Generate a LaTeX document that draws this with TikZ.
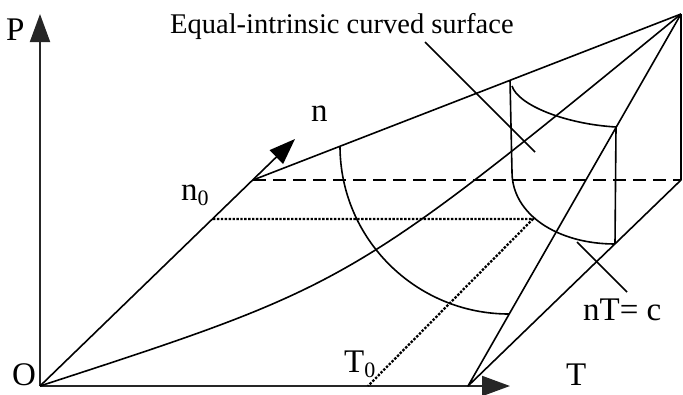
\documentclass[tikz,border=0pt]{standalone}
\usepackage{fontspec}
\setmainfont{Liberation Serif}
\usetikzlibrary{arrows.meta}
\tikzset{
  edge/.style={line width=1.6pt, line join=round},
  axis/.style={line width=2pt, black!85, -{Triangle[length=28pt,width=20pt]}},
  dashline/.style={line width=2.2pt, dash pattern=on 13pt off 7pt},
  dotline/.style={line width=2.3pt, dash pattern=on 2.4pt off 1.5pt},
  lbl/.style={font=\fontsize{33}{33}\selectfont, inner sep=0pt, anchor=base west},
  ttl/.style={font=\fontsize{28.5}{28.5}\selectfont, inner sep=0pt, anchor=base west},
}
\newcommand{\subz}{{\fontsize{22}{22}\selectfont\raisebox{-5pt}{0}}}
\begin{document}
\begin{tikzpicture}[x=1pt,y=-1pt]
\useasboundingbox (0,0) rectangle (683,394);
% points
\coordinate (O) at (40,386);
\coordinate (Ptip) at (40,14);
\coordinate (Ttip) at (510,386);
\coordinate (N0) at (253,180);
\coordinate (Ntip) at (295,139);
\coordinate (A) at (681,14);
\coordinate (R) at (681,180);
\coordinate (B) at (468,386);
\coordinate (D1) at (213,219);
\coordinate (D2) at (533,219);
\coordinate (D3) at (368,386);
\coordinate (BA1) at (340,146);
\coordinate (BA2) at (509,314);
\coordinate (S1) at (510,80);
\coordinate (S2) at (512,172);
\coordinate (S3) at (616,127);
\coordinate (S4) at (615,244);
\coordinate (L1a) at (425,42);
\coordinate (L1b) at (535,152);
\coordinate (L2a) at (577,242);
\coordinate (L2b) at (627,292);
% axes
\draw[axis] (O) -- (Ptip);
\draw[axis] (O) -- (Ttip);
% edges
\draw[edge, -{Triangle[length=26pt,width=19pt]}] (O) -- (Ntip);
\draw[edge] (N0) -- (A);
\draw[edge] (A) -- (R) -- (B) -- (A);
\draw[edge] (O) .. controls (350,285) .. (A);
\draw[dashline] (N0) -- (R);
\draw[dotline] (D1) -- (D2) -- (D3);
% big arc
\draw[edge] (BA1) .. controls (340,239) and (416,314) .. (BA2);
% small surface
\draw[edge] (S1) -- (S2);
\draw[edge] (512,86) .. controls (518,105) and (565,124) .. (S3);
\draw[edge] (S3) -- (S4);
\draw[edge] (S2) .. controls (512,214) and (557,244) .. (S4);
% leaders
\draw[edge] (L1a) -- (L1b);
\draw[edge] (L2a) -- (L2b);
% labels
\node[ttl] (title) at (170,33) {Equal-intrinsic curved surface};
\node[lbl] (lP) at (6,40) {P};
\node[lbl] (lO) at (12,385) {O};
\node[lbl] (ln) at (311,121) {n};
\node[lbl] (ln0) at (181,200) {n\subz};
\node[lbl] (lT0) at (344,372) {T\subz};
\node[lbl] (lT) at (566,385) {T};
\node[lbl] (lnT) at (583,320) {nT= c};
\end{tikzpicture}
\end{document}
